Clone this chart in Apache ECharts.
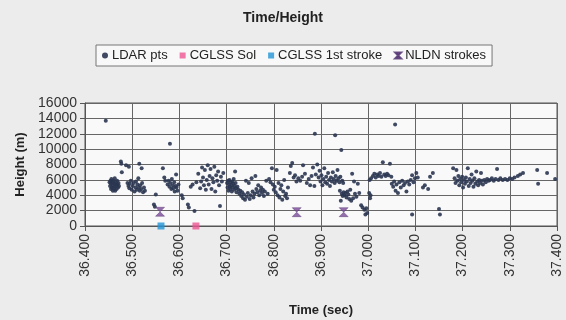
<!DOCTYPE html>
<html><head><meta charset="utf-8">
<script src="https://cdn.jsdelivr.net/npm/echarts@6/dist/echarts.min.js"></script>
<style>html,body{margin:0;padding:0;background:#ececec;}#c{width:566px;height:320px;}</style>
</head><body><div id="c"></div>
<script>
const titleText = "Time/Height";
const xTicks = [36.4, 37.4, 0.1];
const yTicks = [0, 16000, 2000];
const ldarPts = [
[36.444,13700],
[36.452,5700],[36.453,5200],[36.454,5900],[36.455,4800],[36.455,5500],[36.456,6100],[36.457,5000],[36.458,5700],[36.459,4600],[36.459,5300],[36.460,5900],[36.461,4900],[36.462,5500],[36.463,6200],[36.463,5100],[36.464,4600],[36.465,5700],[36.466,5300],[36.467,4800],[36.468,5900],[36.469,5400],[36.470,5000],[36.471,5600],[36.472,5200],
[36.476,8400],[36.477,8100],[36.478,7000],[36.487,7900],[36.493,7700],
[36.490,5600],[36.492,5200],[36.494,4900],[36.495,5500],[36.497,5900],[36.499,4700],[36.501,5200],[36.503,5600],[36.505,4500],[36.507,5000],[36.508,5800],[36.510,4700],[36.511,5400],[36.513,6200],[36.514,5000],[36.515,8100],[36.516,4600],[36.517,5300],[36.519,4800],[36.520,7500],[36.521,5600],[36.523,4400],[36.525,5000],[36.527,4600],
[36.546,2800],[36.548,2500],[36.550,4100],[36.565,7500],[36.568,6300],[36.570,5900],[36.580,10700],
[36.575,5400],[36.577,5900],[36.579,5100],[36.581,5600],[36.583,4800],[36.584,6100],[36.586,5300],[36.587,4900],[36.589,5700],[36.590,4500],[36.592,5200],[36.593,6700],[36.594,5000],[36.596,4600],[36.598,5400],
[36.605,4000],[36.607,3600],[36.618,2800],[36.620,2400],[36.624,5100],[36.628,5400],[36.632,1950],[36.636,5700],[36.640,6800],
[36.644,4900],[36.646,5800],[36.648,7600],[36.650,6300],[36.652,5300],[36.654,7300],[36.656,4700],[36.658,6000],[36.660,7900],[36.662,5400],[36.664,6500],[36.666,7400],[36.668,4800],[36.670,6200],[36.672,5700],[36.674,7700],[36.676,4500],[36.678,6600],[36.680,5900],[36.682,7100],[36.684,5300],[36.686,2600],[36.688,6400],[36.690,5800],[36.693,6900],
[36.701,5600],[36.702,5000],[36.703,5900],[36.704,4600],[36.705,5400],[36.706,6000],[36.707,5100],[36.708,4800],[36.709,5700],[36.710,5300],[36.711,4500],[36.712,5800],[36.713,5000],[36.714,5500],[36.715,6100],[36.716,4700],[36.717,5200],[36.718,7100],[36.719,5600],[36.720,4900],[36.721,4400],[36.723,5100],[36.725,4700],
[36.727,4200],[36.729,4600],[36.731,3900],[36.733,4400],[36.735,3600],[36.737,4100],[36.739,3400],[36.741,5900],[36.743,3800],[36.745,4300],[36.747,5600],[36.749,3500],[36.751,4000],[36.753,6200],[36.755,4500],[36.757,3700],[36.759,4200],[36.761,6500],[36.763,4800],[36.765,4400],[36.767,5300],[36.769,4000],[36.771,4600],[36.773,5000],[36.775,4300],[36.777,4700],[36.779,3900],[36.781,4500],[36.784,5900],[36.787,4200],[36.790,6100],[36.793,5700],[36.796,7500],[36.798,5400],
[36.800,4700],[36.802,5100],[36.804,4400],[36.806,7300],[36.808,4000],[36.810,5600],[36.812,3700],[36.814,4800],[36.816,5300],[36.818,3400],[36.820,4500],[36.822,6000],[36.824,3900],[36.826,4200],[36.828,3600],[36.830,5000],
[36.834,6900],[36.836,7800],[36.839,8200],[36.842,6300],[36.845,6600],[36.848,5800],
[36.852,6200],[36.856,5900],[36.860,6400],[36.862,7900],[36.866,6800],[36.870,5600],[36.874,6100],[36.877,5300],[36.880,6500],[36.883,7600],[36.886,5200],[36.887,12000],[36.889,6700],[36.892,8000],[36.895,6300],[36.897,7200],
[36.899,5800],[36.901,6600],[36.903,5300],[36.905,6100],[36.907,7500],[36.909,5700],[36.911,6400],[36.913,5500],[36.915,6900],[36.917,6000],[36.919,5200],[36.921,6300],[36.923,5800],[36.925,7000],[36.927,6100],[36.929,5600],[36.930,11800],[36.931,6500],[36.933,5900],[36.935,7300],[36.937,6200],[36.939,5700],[36.941,6400],[36.943,9900],[36.945,5900],[36.947,5600],
[36.940,4600],[36.942,3300],[36.944,4200],[36.946,3900],[36.948,4400],[36.950,4000],[36.952,4300],[36.954,3700],[36.956,4500],[36.958,4100],[36.960,3500],[36.962,4700],[36.964,3300],[36.966,6800],[36.968,3600],[36.970,5800],[36.972,4200],[36.975,3800],[36.978,5500],[36.981,4300],[36.985,2700],[36.988,2400],[36.992,2100],[36.994,1500],[36.996,2300],[36.998,1700],
[37.002,4300],[37.004,3600],[37.005,4000],[37.003,6000],[37.006,6200],
[37.010,6500],[37.013,6800],[37.016,6300],[37.019,6700],[37.022,6500],[37.025,6900],[37.028,6400],[37.031,8300],[37.034,6700],[37.037,6500],[37.040,6800],[37.043,6600],[37.046,8100],[37.049,6400],
[37.050,5500],[37.053,5100],[37.055,5800],[37.057,13200],[37.058,4600],[37.060,5400],[37.063,4300],[37.066,5700],[37.069,5000],[37.072,5900],[37.075,5300],[37.078,5600],[37.081,4500],[37.084,5800],[37.087,5400],[37.090,6000],[37.093,6600],[37.093,1500],[37.096,5700],[37.099,6200],[37.102,6900],[37.105,6300],
[37.116,5000],[37.120,5300],[37.127,4800],[37.131,6400],[37.137,6900],
[37.150,2200],[37.152,1500],
[37.180,7500],[37.183,6200],[37.185,5600],[37.187,7300],[37.189,5900],[37.191,6500],[37.193,5300],[37.195,6100],[37.197,5700],[37.199,6400],[37.201,5000],[37.203,6000],[37.205,5500],[37.207,6300],[37.209,5800],[37.211,7500],[37.213,5200],[37.215,6100],[37.217,5600],[37.219,6700],[37.221,5900],[37.223,5100],[37.225,6200],[37.227,5500],[37.229,7100],[37.231,5800],[37.233,5300],[37.235,6000],[37.237,5600],[37.239,6900],[37.241,5900],[37.243,5400],[37.246,6000],[37.249,5700],[37.252,6100],[37.255,5900],
[37.258,6000],[37.262,6200],[37.266,5900],[37.270,6100],[37.273,7400],[37.276,6000],[37.280,6200],[37.285,6000],[37.290,6100],[37.295,6000],[37.300,6200],[37.305,6100],[37.310,6300],[37.317,6500],[37.322,6700],[37.328,6900],[37.358,7300],[37.360,5500],[37.379,6900],[37.396,6100]
];
const cglssSol = [[36.635, 0]];
const cglss1st = [[36.561, 0]];
const nldnStrokes = [[36.559, 1850], [36.8485, 1800], [36.948, 1800]];
const seriesNames = ["LDAR pts", "CGLSS Sol", "CGLSS 1st stroke", "NLDN strokes"];
const xName = "Time (sec)";
const yName = "Height (m)";

const bowtie = 'path://M0,0 L10,0 L0,10 L10,10 Z';
const font = 'Liberation Sans, Arial, sans-serif';
const chart = echarts.init(document.getElementById('c'), null, {renderer: 'canvas'});
chart.setOption({
  animation: false,
  backgroundColor: '#ececec',
  title: {text: titleText, left: 'center', top: 6, textStyle: {fontFamily: font, fontSize: 14, fontWeight: 'bold', color: '#222'}},
  legend: {
    left: 96, top: 45, width: 400, padding: [4, 6, 4, 6], itemGap: 12, itemWidth: 6, itemHeight: 6,
    borderColor: '#777', borderWidth: 1, backgroundColor: '#f8f8f8',
    textStyle: {fontFamily: font, fontSize: 13, color: '#222', padding: [0, 0, 0, -1]},
    data: [
      {name: seriesNames[0], icon: 'circle', itemStyle: {color: '#2a3550'}},
      {name: seriesNames[1], icon: 'rect'},
      {name: seriesNames[2], icon: 'rect'},
      {name: seriesNames[3], icon: bowtie}
    ]
  },
  grid: {left: 85, right: 9, top: 103, bottom: 94, show: true, backgroundColor: '#f9f9f9', borderColor: '#555', borderWidth: 1},
  xAxis: {
    type: 'value', min: xTicks[0], max: xTicks[1], interval: xTicks[2],
    name: xName, nameLocation: 'middle', nameGap: 78,
    nameTextStyle: {fontFamily: font, fontSize: 13, fontWeight: 'bold', color: '#222'},
    axisLine: {lineStyle: {color: '#555'}},
    axisTick: {show: true, length: 5, lineStyle: {color: '#555'}},
    axisLabel: {rotate: 90, margin: 8, fontFamily: font, fontSize: 14, color: '#333', formatter: v => v.toFixed(3)},
    splitLine: {show: true, lineStyle: {color: '#666', width: 1}}
  },
  yAxis: {
    type: 'value', min: yTicks[0], max: yTicks[1], interval: yTicks[2],
    name: yName, nameLocation: 'middle', nameGap: 56, nameRotate: 90,
    nameTextStyle: {fontFamily: font, fontSize: 13, fontWeight: 'bold', color: '#222'},
    axisLine: {show: true, lineStyle: {color: '#555'}},
    axisTick: {show: true, length: 5, lineStyle: {color: '#555'}},
    axisLabel: {margin: 8, fontFamily: font, fontSize: 14, color: '#333', formatter: v => String(v)},
    splitLine: {show: true, lineStyle: {color: '#666', width: 1}}
  },
  series: [
    {name: seriesNames[0], type: 'scatter', data: ldarPts, symbol: 'circle', symbolSize: 4, itemStyle: {color: '#2a3550', opacity: 0.9}, z: 3},
    {name: seriesNames[1], type: 'scatter', data: cglssSol, symbol: 'rect', symbolSize: 7, itemStyle: {color: '#ec5592'}, z: 4},
    {name: seriesNames[2], type: 'scatter', data: cglss1st, symbol: 'rect', symbolSize: 7, itemStyle: {color: '#2295d6'}, z: 4},
    {name: seriesNames[3], type: 'scatter', data: nldnStrokes, symbol: bowtie, symbolSize: 9, itemStyle: {color: '#7b4a9a', borderColor: '#4a2a6a', borderWidth: 0.5}, z: 4}
  ]
});
</script></body></html>
